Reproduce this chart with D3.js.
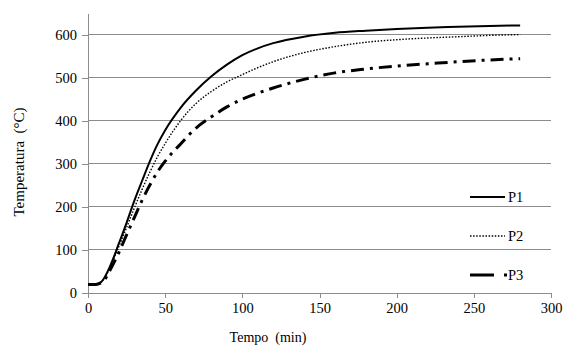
<!DOCTYPE html>
<html>
<head>
<meta charset="utf-8">
<script src="https://cdn.jsdelivr.net/npm/d3@7"></script>
<style>
  body { margin: 0; background: #fff; }
  svg text { font-family: "Liberation Serif", "Times New Roman", serif; }
</style>
</head>
<body>
<div id="chart"></div>
<script>
// Time (min) sample points and temperature readings per series
const tempo = [0, 5, 8, 10, 15, 20, 25, 30, 35, 40, 45, 50, 60, 70, 80, 90, 100, 110, 120, 140, 160, 180, 200, 220, 240, 260, 280];
const p1 = [20, 20, 24, 32, 68, 115, 163, 214, 260, 305, 345, 378, 430, 470, 503, 530, 552, 568, 580, 595, 604, 609, 613, 616, 618, 620, 621];
const p2 = [20, 20, 24, 31, 66, 108, 152, 197, 240, 280, 316, 347, 400, 440, 468, 490, 507, 523, 537, 558, 572, 582, 588, 592, 595, 598, 600];
const p3 = [20, 20, 23, 28, 58, 94, 135, 175, 215, 250, 281, 306, 346, 383, 409, 432, 450, 464, 476, 496, 511, 520, 527, 532, 537, 541, 544];
const seriesNames = ['P1', 'P2', 'P3'];
const xTicks = [0, 50, 100, 150, 200, 250, 300];
const yTicks = [0, 100, 200, 300, 400, 500, 600];

const width = 574, height = 362;
const margin = { top: 13, right: 23, bottom: 69, left: 88 };
const serif = '"Liberation Serif", "Times New Roman", serif';

const svg = d3.select('#chart').append('svg')
    .attr('width', width)
    .attr('height', height);

const x = d3.scaleLinear().domain([0, 300]).range([margin.left, width - margin.right]);
const y = d3.scaleLinear().domain([0, 650]).range([height - margin.bottom, margin.top]);

// gridlines
svg.append('g')
    .selectAll('line')
    .data(yTicks.filter(d => d > 0))
    .join('line')
    .attr('x1', x(0)).attr('x2', x(300))
    .attr('y1', d => y(d)).attr('y2', d => y(d))
    .attr('stroke', '#8c8c8c')
    .attr('stroke-width', 1)
    .attr('shape-rendering', 'crispEdges');

// axes
const xAxis = svg.append('g')
    .attr('transform', `translate(0,${y(0)})`)
    .call(d3.axisBottom(x).tickValues(xTicks).tickSize(5).tickPadding(5).tickSizeOuter(0));
const yAxis = svg.append('g')
    .attr('transform', `translate(${x(0)},0)`)
    .call(d3.axisLeft(y).tickValues(yTicks).tickSize(6).tickPadding(5).tickSizeOuter(0));

[xAxis, yAxis].forEach(a => {
    a.attr('font-family', serif).attr('font-size', 14.5);
    a.select('.domain').attr('stroke', '#8c8c8c').attr('shape-rendering', 'crispEdges');
    a.selectAll('.tick line').attr('stroke', '#8c8c8c').attr('shape-rendering', 'crispEdges');
    a.selectAll('.tick text').attr('fill', '#000');
});

// axis titles
svg.append('text')
    .attr('x', 268)
    .attr('y', 342)
    .attr('text-anchor', 'middle')
    .attr('font-size', 14)
    .style('white-space', 'pre')
    .text('Tempo  (min)');

svg.append('text')
    .attr('transform', 'translate(24,162) rotate(-90)')
    .attr('text-anchor', 'middle')
    .attr('font-size', 15)
    .style('white-space', 'pre')
    .text('Temperatura  (°C)');

// series
const styles = [
    { width: 2, dash: null },
    { width: 1.4, dash: '1.5,1.6' },
    { width: 3, dash: '13,6,3,6' }
];
const values = [p1, p2, p3];

const line = d3.line()
    .x((d, i) => x(tempo[i]))
    .y(d => y(d))
    .curve(d3.curveMonotoneX);

values.forEach((vals, k) => {
    svg.append('path')
        .datum(vals)
        .attr('fill', 'none')
        .attr('stroke', '#000')
        .attr('stroke-width', styles[k].width)
        .attr('stroke-dasharray', styles[k].dash)
        .attr('d', line);
});

// legend
const legendY = [197, 236, 275];
const legend = svg.append('g');
seriesNames.forEach((name, k) => {
    legend.append('line')
        .attr('x1', 470).attr('x2', k === 2 ? 507 : 505)
        .attr('y1', legendY[k]).attr('y2', legendY[k])
        .attr('stroke', '#000')
        .attr('stroke-width', styles[k].width)
        .attr('stroke-dasharray', k === 2 ? '24,10,3,10' : styles[k].dash);
    legend.append('text')
        .attr('x', 508)
        .attr('y', legendY[k] + 5)
        .attr('font-size', 14.5)
        .text(name);
});
</script>
</body>
</html>
